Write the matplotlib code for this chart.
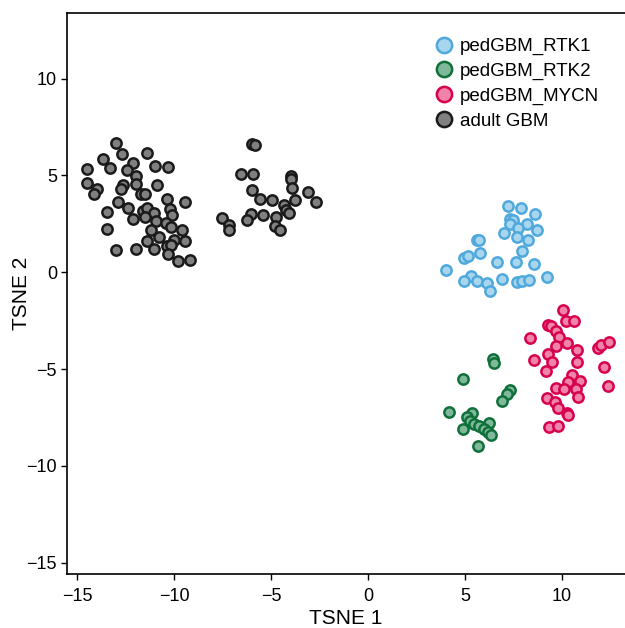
import matplotlib
matplotlib.use("Agg")
import matplotlib.pyplot as plt
from matplotlib.lines import Line2D

plt.rcParams['font.family'] = ['Liberation Sans', 'DejaVu Sans']

# tSNE coordinates
rtk1_x = [7.22, 7.91, 8.60, 7.32, 7.50, 8.19, 7.32, 7.76, 8.70, 7.01, 7.70, 8.25,
          5.60, 5.72, 5.77, 4.94, 5.17, 7.96, 6.67, 7.62, 8.56, 4.04, 5.32, 4.94,
          5.60, 6.15, 6.28, 6.89, 7.70, 7.96, 8.31, 9.21]
rtk1_y = [3.42, 3.33, 2.99, 2.73, 2.68, 2.47, 2.47, 2.30, 2.16, 2.04, 1.81, 1.66,
          1.66, 1.66, 1.00, 0.74, 0.83, 1.12, 0.53, 0.52, 0.43, 0.14, -0.17, -0.43,
          -0.43, -0.55, -0.95, -0.33, -0.52, -0.43, -0.38, -0.24]

rtk2_x = [6.46, 6.49, 4.91, 7.31, 7.19, 6.89, 4.16, 5.37, 5.11, 5.25, 5.46, 5.72,
          6.23, 5.97, 6.18, 6.36, 4.89, 5.68]
rtk2_y = [-4.49, -4.66, -5.51, -6.08, -6.28, -6.65, -7.20, -7.29, -7.50, -7.67, -7.84, -7.94,
          -7.77, -8.12, -8.24, -8.41, -8.12, -8.98]

mycn_x = [10.04, 10.21, 10.64, 9.29, 9.43, 9.69, 9.86, 8.36, 10.26, 9.69, 10.78, 11.85,
          12.02, 12.45, 9.31, 8.56, 9.48, 10.78, 12.16, 9.17, 10.52, 10.95, 10.30, 12.37,
          9.69, 10.12, 10.73, 10.81, 9.26, 9.65, 9.81, 10.26, 10.30, 9.34, 9.78]
mycn_y = [-1.93, -2.54, -2.49, -2.71, -2.76, -3.02, -3.32, -3.40, -3.66, -3.80, -4.01, -3.89,
          -3.75, -3.58, -4.23, -4.52, -4.61, -4.61, -4.87, -5.09, -5.30, -5.61, -5.65, -5.87,
          -5.96, -6.03, -6.03, -6.42, -6.51, -6.68, -7.03, -7.29, -7.37, -7.98, -7.93]

adult_x = [-13.02, -12.71, -11.38, -13.66, -13.33, -14.49, -12.11, -12.42, -10.98, -10.30,
           -11.98, -14.52, -13.97, -14.15, -12.63, -12.76, -11.98, -10.90, -11.73, -11.50,
           -10.38, -9.43, -12.89, -12.37, -13.46, -11.61, -11.38, -11.04, -10.21, -10.09,
           -12.12, -11.50, -10.95, -10.43, -10.17, -13.46, -11.21, -9.62, -10.78, -11.38,
           -10.00, -9.43, -10.35, -10.17, -13.02, -11.98, -11.04, -10.30, -9.79, -9.17,
           -5.97, -5.85, -6.54, -5.94, -3.99, -3.99, -3.92, -3.09, -2.69, -5.99,
           -5.60, -4.96, -4.34, -3.78, -4.25, -4.09, -7.55, -7.20, -7.19, -6.06,
           -6.23, -5.42, -4.73, -4.82, -4.52]
adult_y = [6.67, 6.10, 6.15, 5.85, 5.37, 5.32, 5.63, 5.27, 5.49, 5.44,
           4.97, 4.60, 4.32, 4.03, 4.49, 4.28, 4.58, 4.49, 4.03, 4.03,
           3.77, 3.63, 3.63, 3.30, 3.11, 3.16, 3.30, 3.07, 3.25, 2.94,
           2.76, 2.85, 2.64, 2.55, 2.33, 2.26, 2.18, 2.18, 1.81, 1.61,
           1.69, 1.61, 1.35, 1.40, 1.14, 1.18, 1.18, 0.95, 0.57, 0.62,
           6.62, 6.58, 5.06, 5.06, 4.97, 4.80, 4.37, 4.15, 3.64, 4.25,
           3.77, 3.72, 3.47, 3.72, 3.21, 3.07, 2.81, 2.44, 2.16, 3.02,
           2.68, 2.94, 2.85, 2.38, 2.18]

groups = ['pedGBM_RTK1', 'pedGBM_RTK2', 'pedGBM_MYCN', 'adult GBM']
xs = [rtk1_x, rtk2_x, mycn_x, adult_x]
ys = [rtk1_y, rtk2_y, mycn_y, adult_y]
faces = ['#a9d6ef', '#7fb99b', '#ef83a8', '#808080']
edges = ['#4fa9dc', '#10703a', '#d7004f', '#1a1a1a']

fig = plt.figure(figsize=(6.25, 6.28), dpi=100)
ax = fig.add_axes([0.1067, 0.0855, 0.8933, 0.8943])

for x, y, fc, ec in zip(xs, ys, faces, edges):
    ax.scatter(x, y, s=55, c=fc, edgecolors=ec, linewidths=1.8, zorder=3)

ax.set_xlim(-15.55, 13.26)
ax.set_ylim(-15.6, 13.41)
ax.set_xticks([-15, -10, -5, 0, 5, 10])
ax.set_yticks([-15, -10, -5, 0, 5, 10])
ax.tick_params(direction='out', length=4, width=1, labelsize=13)
ax.tick_params(axis='x', pad=6)
ax.tick_params(axis='y', pad=3)
ax.spines['right'].set_visible(False)
for s in ['left', 'bottom', 'top']:
    ax.spines[s].set_linewidth(1.2)
ax.set_xlabel('TSNE 1', fontsize=15, labelpad=3)
ax.set_ylabel('TSNE 2', fontsize=15, labelpad=-3)

handles = [Line2D([], [], ls='none', marker='o', markersize=11, markerfacecolor=fc,
                  markeredgecolor=ec, markeredgewidth=1.8)
           for fc, ec in zip(faces, edges)]
ax.legend(handles, groups, loc='upper right', bbox_to_anchor=(0.984, 0.985),
          frameon=False, fontsize=13.5, handletextpad=0.1, labelspacing=0.4,
          handlelength=1.5)

fig.savefig('out.png', dpi=100)
